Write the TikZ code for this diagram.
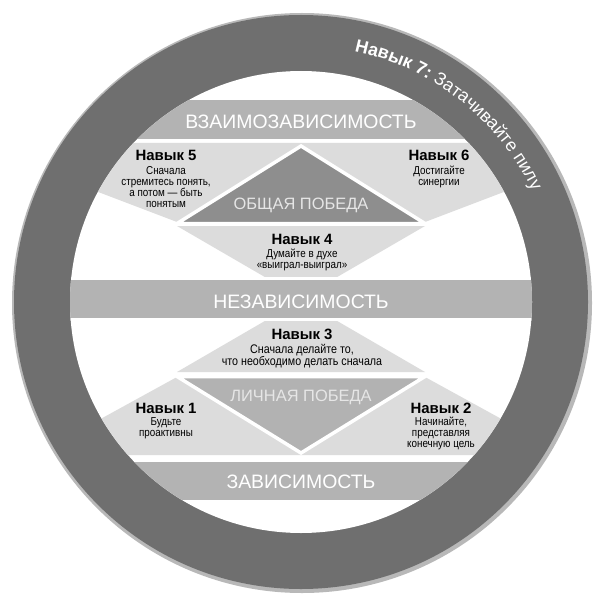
\documentclass[tikz,border=0pt]{standalone}
\usepackage{fontspec}
\setmainfont{Liberation Sans}
\newfontfamily\narrowfont{Liberation Sans}[FakeStretch=0.86]
\usetikzlibrary{decorations.text}
\definecolor{ringc}{HTML}{6F6F6F}
\definecolor{ringedge}{HTML}{B8B8B8}
\definecolor{bandc}{HTML}{B3B3B3}
\definecolor{lightc}{HTML}{DCDCDC}
\definecolor{darktri}{HTML}{8E8E8E}
\definecolor{midtri}{HTML}{B2B2B2}
\definecolor{tritext}{HTML}{E6E6E6}
\begin{document}
\begin{tikzpicture}[x=1bp,y=-1bp,
  head/.style={font=\fontsize{15}{15}\selectfont\bfseries, inner sep=0pt, text=black},
  body/.style={font=\narrowfont\fontsize{11.5}{11}\selectfont, align=center, inner sep=0pt, anchor=north},
  bigbody/.style={font=\narrowfont\fontsize{12.5}{12}\selectfont, align=center, inner sep=0pt, anchor=north},
  bandlabel/.style={font=\fontsize{19.5}{20}\selectfont, text=white, inner sep=0pt, anchor=base},
  victory/.style={font=\fontsize{16.5}{17}\selectfont, text=tritext, inner sep=0pt, anchor=base},
  gapline/.style={draw=white, line width=3.5bp},
]
\fill[white] (0,0) rectangle (603,603);
\useasboundingbox (0,0) rectangle (603,603);
\fill[ringedge] (302,303) circle[radius=290];
\fill[ringc] (301,302) circle[radius=287];
\fill[white] (301,302) circle[radius=231];
\begin{scope}
  \clip (301,302) circle[radius=231];
  % bands
  \fill[bandc] (0,100) rectangle (603,139);
  \fill[bandc] (0,462) rectangle (603,500);
  % top section
  \fill[lightc] (40,143) -- (562,143) -- (562,169.8) -- (425,222) -- (177,222) -- (40,169.8) -- cycle;
  \fill[lightc] (177,226) -- (425,226) -- (301,298) -- cycle;
  \filldraw[fill=darktri, gapline] (177,223.5) -- (425,223.5) -- (301,146) -- cycle;
  % bottom section
  \fill[lightc] (177,372) -- (425,372) -- (301,300) -- cycle;
  \fill[lightc] (177,377) -- (35,455) -- (567,455) -- (425,377) -- cycle;
  \filldraw[fill=midtri, gapline] (177,376.5) -- (425,376.5) -- (301,453) -- cycle;
  % middle band
  \filldraw[fill=bandc, draw=white, line width=3bp] (-5,278.5) rectangle (608,319.5);
\end{scope}

\node[bandlabel] (interdep) at (301,128.5) {ВЗАИМОЗАВИСИМОСТЬ};
\node[bandlabel] (indep) at (301,308) {НЕЗАВИСИМОСТЬ};
\node[bandlabel] (dep) at (301,488) {ЗАВИСИМОСТЬ};
\node[victory] (pubwin) at (301,209) {ОБЩАЯ ПОБЕДА};
\node[victory] (privwin) at (301,401) {ЛИЧНАЯ ПОБЕДА};

\node[head] (h5) at (166,155) {Навык 5};
\node[body] (b5) at (166,166) {Сначала\\стремитесь понять,\\а потом — быть\\понятым};
\node[head] (h6) at (439,155) {Навык 6};
\node[body] (b6) at (439,166) {Достигайте\\синергии};
\node[head] (h4) at (302,239) {Навык 4};
\node[body] (b4) at (302,249) {Думайте в духе\\«выиграл-выиграл»};
\node[head] (h3) at (302,334) {Навык 3};
\node[bigbody] (b3) at (302,344) {Сначала делайте то,\\что необходимо делать сначала};
\node[head] (h1) at (166,408) {Навык 1};
\node[body] (b1) at (166,417) {Будьте\\проактивны};
\node[head] (h2) at (441,408) {Навык 2};
\node[body] (b2) at (441,417) {Начинайте,\\представляя\\конечную цель};

\path[decorate, decoration={text along path, text color=white, text align=center,
  text={|\fontsize{18}{18}\selectfont\bfseries|Навык 7: |\fontsize{18}{18}\selectfont\mdseries|Затачивайте пилу}}]
  (301,302) ++(-90:256.5) arc[start angle=-90, end angle=-13.6, radius=256.5];
\end{tikzpicture}
\end{document}
